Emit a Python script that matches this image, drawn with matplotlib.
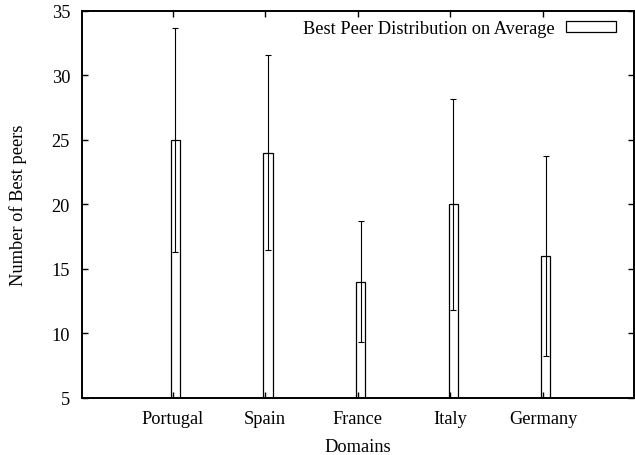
import numpy as np
import matplotlib.pyplot as plt

# Best peers per domain: mean and error bar half-width
domains = ['Portugal', 'Spain', 'France', 'Italy', 'Germany']
avg_peers = [25, 24, 14, 20, 16]
err_peers = [8.65, 7.55, 4.68, 8.2, 7.75]

plt.rcParams['font.family'] = ['Liberation Serif', 'DejaVu Serif']
plt.rcParams['font.size'] = 13.2

fig = plt.figure(figsize=(6.35, 4.56), dpi=100)
ax = fig.add_axes([0.129, 0.125, 0.869, 0.849])

x = np.arange(1, len(domains) + 1)
xb = x + 0.03
ax.bar(xb, avg_peers, width=0.1, bottom=0, color='white', edgecolor='black',
       linewidth=0.9, label='Best Peer Distribution on Average')
ax.errorbar(xb, avg_peers, yerr=err_peers, fmt='none', ecolor='black',
            elinewidth=0.8, capsize=2, capthick=0.8)

ax.set_xlim(0.02, 5.98)
ax.set_ylim(5, 35)
ax.set_xticks(x)
ax.set_xticklabels(domains)
ax.set_yticks(range(5, 36, 5))
ax.tick_params(direction='in', length=4, width=1, top=True, right=True, pad=8.5)
for s in ax.spines.values():
    s.set_linewidth(1.4)

ax.set_xlabel('Domains', labelpad=8)
ax.set_ylabel('Number of Best peers', labelpad=18)

leg = ax.legend(loc='upper right', bbox_to_anchor=(0.985, 1.0), frameon=False,
                markerfirst=False, handlelength=2.75, handleheight=0.5,
                borderaxespad=0.15, borderpad=0.35, handletextpad=0.6)

fig.savefig('out.png', dpi=100)
